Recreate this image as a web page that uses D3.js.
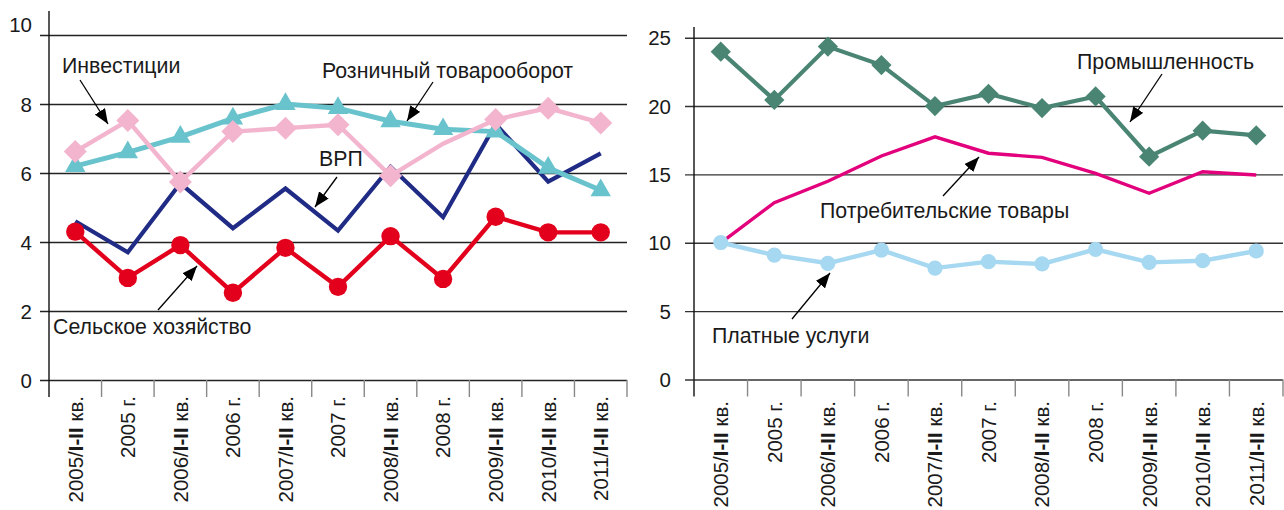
<!DOCTYPE html>
<html><head><meta charset="utf-8">
<script src="https://cdn.jsdelivr.net/npm/d3@7"></script>
<style>
html,body{margin:0;padding:0;background:#fff;}
text{font-family:"Liberation Sans",Arial,sans-serif;font-size:20.5px;fill:#1a1a1a;}
text.note{font-size:21.3px;}
</style></head>
<body><svg id="chart" width="1284" height="510"></svg>
<script>
// ---------- data ----------
const categories = ["2005/I-II кв.","2005 г.","2006/I-II кв.","2006 г.","2007/I-II кв.","2007 г.","2008/I-II кв.","2008 г.","2009/I-II кв.","2010/I-II кв.","2011/I-II кв."];
const leftTicks = [0,2,4,6,8,10];
const rightTicks = [0,5,10,15,20,25];

const investments   = [6.62,7.52,5.74,7.2,7.3,7.4,5.92,6.85,7.55,7.88,7.45];
const investMarkers = [true,true,true,true,true,true,true,false,true,true,true];
const retail        = [6.2,6.6,7.05,7.58,8.0,7.88,7.5,7.27,7.2,6.15,5.5];
const grp           = [4.6,3.7,5.7,4.4,5.55,4.33,6.18,4.72,7.42,5.75,6.57];
const agriculture   = [4.3,2.96,3.91,2.53,3.83,2.7,4.17,2.93,4.73,4.28,4.28];

const industry      = [23.98,20.45,24.35,23.0,20.0,20.9,19.85,20.7,16.3,18.2,17.85];
const consumer      = [10.0,12.93,14.5,16.35,17.75,16.55,16.25,15.08,13.62,15.2,14.96];
const services      = [10.02,9.1,8.5,9.47,8.15,8.62,8.45,9.52,8.57,8.69,9.4];

// ---------- setup ----------
const svg = d3.select("#chart");
const defs = svg.append("defs");
defs.append("marker").attr("id","arrow").attr("markerUnits","userSpaceOnUse")
  .attr("viewBox","0 -6 15 12").attr("refX",15).attr("refY",0)
  .attr("markerWidth",15).attr("markerHeight",12).attr("orient","auto")
  .append("path").attr("d","M0,-6L15,0L0,6Z").attr("fill","#000");

function drawPanel(cfg){
  const g = svg.append("g");
  const x = d3.scaleBand().domain(categories).range([cfg.x0, cfg.x1]);
  const y = d3.scaleLinear().domain(cfg.domain).range([cfg.yBottom, cfg.yTop]);
  const ax = g.append("g").attr("transform",`translate(${cfg.gridStart},0)`)
    .call(d3.axisLeft(y).tickValues(cfg.ticks).tickSizeInner(-(cfg.x1-cfg.gridStart)).tickSizeOuter(0).tickPadding(cfg.labelPad));
  ax.select(".domain").remove();
  ax.selectAll(".tick line").attr("stroke",cfg.gridColor).attr("stroke-width",1.4);
  ax.selectAll(".tick text").attr("font-size",21).attr("fill","#1a1a1a")
    .style("font-family","'Liberation Sans',Arial,sans-serif")
    .attr("dy", d => (cfg.topShift && d===cfg.domain[1]) ? "-0.15em" : "0.35em");
  g.append("line").attr("x1",cfg.x0).attr("x2",cfg.x0).attr("y1",cfg.yBottom).attr("y2",cfg.axisTop)
    .attr("stroke","#111").attr("stroke-width",1.4);
  const bounds = categories.map(c=>x(c)).concat([cfg.x1]);
  g.selectAll(".sep").data(bounds).join("line")
    .attr("x1",d=>d).attr("x2",d=>d).attr("y1",cfg.yBottom).attr("y2",cfg.yBottom+17)
    .attr("stroke",(d,i)=> i===0 ? "#111" : "#888").attr("stroke-width",1.4);
  const lab = g.selectAll(".xl").data(categories).join("text")
    .attr("transform",d=>`translate(${x(d)+x.bandwidth()/2},${cfg.labelTop}) rotate(-90)`)
    .attr("text-anchor","end").attr("dy","0.36em");
  lab.each(function(d){
    const t = d3.select(this);
    const m = d.match(/^(\d{4}\/)(I-II)(.*)$/);
    if(m){
      t.append("tspan").text(m[1]);
      t.append("tspan").attr("font-weight","bold").text(m[2]);
      t.append("tspan").text(m[3]);
    } else t.text(d);
  });
  return {g,x,y,cx:d=>x(d)+x.bandwidth()/2};
}

const L = drawPanel({x0:49,x1:627,gridStart:40,domain:[0,10],yBottom:380,yTop:35,ticks:leftTicks,labelPad:8,axisTop:11,gridColor:"#222",labelTop:396,topShift:true});
const R = drawPanel({x0:694,x1:1283,gridStart:685,domain:[0,25],yBottom:379.5,yTop:37.7,ticks:rightTicks,labelPad:14,axisTop:27,gridColor:"#333",labelTop:401,topShift:false});

function series(P, vals, color, width, marker, markerShown){
  const pts = vals.map((v,i)=>[P.cx(categories[i]), P.y(v)]);
  P.g.append("path").attr("d", d3.line()(pts)).attr("fill","none")
    .attr("stroke",color).attr("stroke-width",width).attr("stroke-linejoin","miter");
  if(!marker) return;
  const shown = pts.filter((p,i)=>!markerShown || markerShown[i]);
  P.g.selectAll(null).data(shown).join("path")
    .attr("d", marker.path)
    .attr("transform", p=>`translate(${p[0]},${p[1]})${marker.rot?" rotate(45)":""}`)
    .attr("fill",color);
}
const diamondBig = {path:d3.symbol(d3.symbolSquare,265)(), rot:true};
const diamondGreen = {path:d3.symbol(d3.symbolSquare,205)(), rot:true};
const tri = {path:d3.symbol(d3.symbolTriangle,180)()};
const circRed = {path:d3.symbol(d3.symbolCircle,Math.PI*9.2*9.2)()};
const circBlue = {path:d3.symbol(d3.symbolCircle,Math.PI*7.6*7.6)()};

series(L, grp, "#1f2b85", 4.2, null);
series(L, retail, "#69c3cc", 5, tri);
series(L, investments, "#f3b4ce", 4.4, diamondBig, investMarkers);
series(L, agriculture, "#e2001c", 4.4, circRed);

series(R, consumer, "#e3007c", 3.4, null);
series(R, services, "#a6d8f1", 4.4, circBlue);
series(R, industry, "#4a8573", 4.2, diamondGreen);

function note(txt, tx, ty, ax1, ay1, ax2, ay2){
  svg.append("text").attr("class","note").attr("x",tx).attr("y",ty).text(txt);
  svg.append("line").attr("x1",ax1).attr("y1",ay1).attr("x2",ax2).attr("y2",ay2)
    .attr("stroke","#000").attr("stroke-width",1.3).attr("marker-end","url(#arrow)");
}
note("Инвестиции", 62, 73, 80, 80, 108, 124);
note("Розничный товарооборот", 322, 78, 433, 82, 407, 121);
note("ВРП", 319, 166, 337, 177, 315, 207);
note("Сельское хозяйство", 53, 334, 158, 310, 197, 266);
note("Промышленность", 1077, 69, 1162, 74, 1130, 122);
note("Потребительские товары", 820, 218, 943, 196, 979, 157);
note("Платные услуги", 712, 343, 792, 319, 830, 273);
</script></body></html>
